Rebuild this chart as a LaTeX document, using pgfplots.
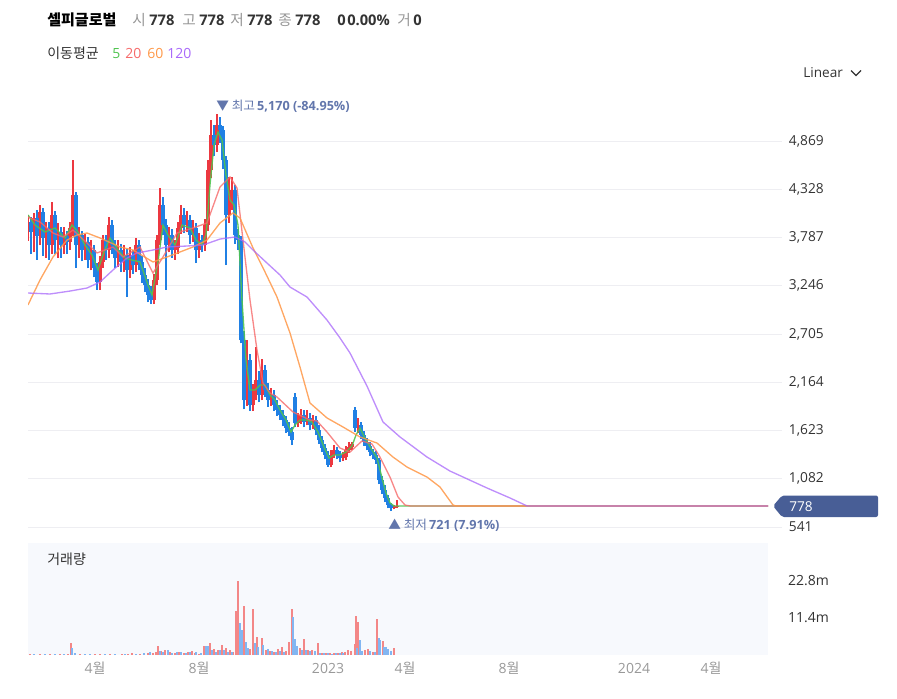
\documentclass[border=0pt]{standalone}
\usepackage{fontspec}
\setmainfont{Open Sans}
\newfontfamily\kr{Noto Sans CJK KR}
\usepackage{pgfplots}
\pgfplotsset{compat=1.18}
\usepackage{pgfplotstable}

\definecolor{cRed}{RGB}{236,56,64}
\definecolor{cBlue}{RGB}{32,128,228}
\definecolor{vRed}{RGB}{243,135,135}
\definecolor{vBlue}{RGB}{130,182,242}
\definecolor{maG}{RGB}{80,196,80}
\definecolor{maR}{RGB}{246,106,106}
\definecolor{maO}{RGB}{255,152,72}
\definecolor{maP}{RGB}{168,104,250}
\definecolor{gridc}{RGB}{238,238,242}
\definecolor{volbg}{RGB}{247,249,253}
\definecolor{tagc}{RGB}{72,94,150}
\definecolor{annc}{RGB}{98,118,172}
\definecolor{txt}{RGB}{51,51,51}
\definecolor{gry}{RGB}{150,150,150}
\definecolor{xgry}{RGB}{153,153,153}

% up (red) candles
\pgfplotstableread{
x o h l c
28 3850 4040 3750 3961
34 3849 4060 3620 4006
40 3804 4152 3700 4073
46 3782 3960 3560 3894
52 3703 4185 3600 4040
58 3759 3950 3560 3849
64 3703 3900 3600 3804
70 3737 3960 3650 3894
73 3894 4656 3800 4264
79 3703 3900 3560 3815
85 3647 3830 3540 3737
91 3535 3760 3420 3647
100 3288 3580 3200 3513
103 3513 3820 3450 3759
109 3647 4017 3560 3927
118 3557 3760 3460 3647
124 3513 3700 3400 3591
130 3423 3680 3330 3591
136 3479 3780 3400 3703
154 3087 3380 3040 3311
157 3311 3820 3250 3759
160 3759 4342 3700 4152
169 3703 3900 3620 3815
175 3647 3760 3540 3670
178 3670 3960 3600 3894
181 3894 4152 3830 4040
187 3927 4080 3850 3984
193 3815 3980 3740 3894
199 3647 3840 3560 3759
205 3703 3990 3640 3927
208 3927 4656 3860 4544
211 4544 5105 4450 4937
217 4824 5170 4750 5049
229 4040 4466 3950 4208
232 4208 4466 4100 4320
247 1965 2638 1900 2414
253 1909 2140 1840 2022
256 2022 2560 1960 2190
262 2022 2420 1960 2302
271 1965 2100 1900 2022
298 1708 1820 1660 1742
301 1742 1870 1700 1797
307 1719 1850 1680 1764
313 1686 1800 1640 1742
331 1237 1400 1210 1349
334 1349 1460 1310 1405
343 1316 1380 1280 1327
346 1327 1450 1290 1405
349 1405 1490 1370 1439
352 1439 1495 1400 1472
358 1652 1760 1600 1686
394 754 790 740 777
397 766 844 760 778
}\upcandles

% down (blue) candles
\pgfplotstableread{
x o h l c
31 3961 4020 3600 3849
37 4006 4100 3540 3804
43 4073 4120 3580 3782
49 3894 3960 3540 3703
55 4040 4080 3600 3759
61 3849 3900 3560 3703
67 3804 3860 3600 3737
76 4264 4300 3445 3703
82 3815 3860 3520 3647
88 3737 3790 3440 3535
94 3647 3700 3340 3445
97 3445 3500 3199 3288
106 3759 3820 3540 3647
112 3927 3980 3600 3703
115 3703 3760 3440 3557
121 3647 3720 3400 3513
127 3591 3660 3120 3423
133 3591 3650 3380 3479
139 3703 3760 3420 3513
142 3513 3580 3280 3367
145 3367 3440 3180 3255
148 3255 3320 3060 3143
151 3143 3240 3040 3087
163 4152 4240 3820 3927
166 3927 3990 3199 3703
172 3815 3880 3560 3647
184 4040 4120 3840 3927
190 3984 4040 3720 3815
196 3894 3950 3501 3647
202 3759 3820 3620 3703
214 4937 5050 4700 4824
220 5049 5140 4850 4993
223 4993 5040 4550 4656
226 4656 4700 3479 4040
235 4320 4380 3720 3815
238 3815 3880 3650 3759
241 3759 3800 2600 2638
244 2638 2740 1860 1965
250 2414 2480 1840 1909
259 2190 2290 1940 2022
265 2302 2360 2000 2077
268 2077 2160 1890 1965
274 2022 2080 1840 1909
277 1909 1970 1790 1853
280 1853 1910 1740 1797
283 1797 1850 1670 1742
286 1742 1790 1600 1652
289 1652 1720 1560 1607
292 1607 1660 1461 1517
295 2000 2044 1660 1708
304 1797 1850 1660 1719
310 1764 1820 1630 1686
316 1742 1790 1570 1630
319 1630 1680 1470 1517
322 1517 1560 1380 1428
325 1428 1470 1300 1349
328 1349 1390 1215 1237
337 1405 1440 1300 1349
340 1349 1390 1270 1316
355 1853 1887 1610 1652
361 1686 1720 1530 1574
364 1574 1620 1450 1495
367 1495 1540 1400 1450
370 1450 1500 1340 1383
373 1383 1420 1300 1349
376 1349 1390 1250 1293
379 1293 1320 1020 1068
382 1068 1110 910 956
385 956 1010 820 866
388 866 900 750 788
391 788 810 721 754
}\downcandles

% volume, millions
\pgfplotstableread{
x v
30 0.3
40 0.2
50 0.2
60 0.2
68 0.3
71 3.7
80 0.2
95 0.3
100 0.3
110 0.3
122 0.4
128 0.3
132 0.5
140 0.4
148 0.5
153 0.6
156 1.0
158 2.8
161 1.2
165 1.4
170 0.8
175 0.6
179 0.9
184 0.7
188 0.8
192 1.2
195 0.6
199 0.4
204 2.8
207 2.2
210 3.7
214 2.0
218 1.5
222 3.2
226 2.1
230 1.4
233 1.0
236 13.6
238 22.9
244 15.1
250 2.0
253 14.2
257 5.6
262 5.3
266 1.5
270 1.2
274 1.0
278 2.0
282 2.6
286 1.3
289 4.1
292 14.2
300 2.3
304 4.9
308 1.6
312 1.5
318 3.7
322 0.6
326 0.5
330 0.5
334 0.6
338 0.5
342 0.8
345 0.9
348 1.6
351 1.1
355 3.5
356 12.0
358 10.3
365 1.6
368 2.0
373 0.8
377 11.0
383 4.3
394 2.3
}\volred

\pgfplotstableread{
x v
34 0.2
45 0.3
55 0.2
64 0.2
72 2.2
75 0.5
85 0.3
90 0.2
105 0.2
115 0.2
125 0.3
136 0.4
144 0.6
150 0.8
160 1.2
163 0.8
168 1.5
172 0.7
177 0.8
181 0.9
186 0.7
190 1.0
196 0.8
201 0.5
206 2.9
208 2.8
212 1.5
216 1.0
220 1.4
224 1.5
228 0.9
232 0.8
240 10.0
242 7.7
246 4.1
248 2.2
255 3.7
258 2.5
263 3.0
268 1.8
272 1.2
276 1.0
280 1.2
284 1.0
293 11.6
295 4.9
297 2.8
302 1.6
306 1.4
310 1.3
315 1.2
320 0.6
324 0.5
328 0.6
332 0.4
336 0.5
340 0.6
343 0.5
357 2.2
360 4.5
362 1.1
370 1.1
375 1.0
379 5.3
380 4.6
384 2.6
386 2.6
388 1.9
391 1.1
}\volblue

\begin{document}
\begin{tikzpicture}[x=0.75pt,y=-0.75pt]
\path[use as bounding box] (0,0) rectangle (897,699);

% ---------- price panel ----------
\begin{axis}[
  at={(21pt,-401.25pt)}, anchor=south west,
  scale only axis, width=565.5pt, height=330pt,
  xmin=28, xmax=782, ymin=452, ymax=5385,
  axis line style={draw=none},
  major tick length=0pt,
  xtick=\empty,
  ytick={541,1082,1623,2164,2705,3246,3787,4328,4869},
  yticklabels={541,{1,082},{1,623},{2,164},{2,705},{3,246},{3,787},{4,328},{4,869}},
  yticklabel pos=right,
  yticklabel style={anchor=west, xshift=1.7pt, text=txt, font=\fontsize{10.3pt}{12pt}\selectfont},
  ymajorgrids, grid style={gridc, line width=0.6pt},
]
% wicks
\addplot[cRed, mark=none, forget plot,
  quiver={u=0, v=\thisrow{h}-\thisrow{l}, every arrow/.append style={line width=0.8pt, draw=cRed}}]
  table[x=x, y=l] {\upcandles};
\addplot[cBlue, mark=none, forget plot,
  quiver={u=0, v=\thisrow{h}-\thisrow{l}, every arrow/.append style={line width=0.8pt, draw=cBlue}}]
  table[x=x, y=l] {\downcandles};
% bodies
\addplot[cRed, mark=none, forget plot,
  quiver={u=0, v=\thisrow{c}-\thisrow{o}, every arrow/.append style={line width=2.5pt, draw=cRed}}]
  table[x=x, y=o] {\upcandles};
\addplot[cBlue, mark=none, forget plot,
  quiver={u=0, v=\thisrow{o}-\thisrow{c}, every arrow/.append style={line width=2.5pt, draw=cBlue}}]
  table[x=x, y=c] {\downcandles};

% MA5
\addplot[maG, line width=1pt, opacity=0.9] coordinates {
(28,4040)(35,3927)(45,3849)(55,3894)(65,3782)(72,3927)(78,3849)(85,3703)(92,3591)(98,3423)
(104,3625)(110,3782)(118,3647)(125,3557)(132,3535)(140,3513)(148,3255)(152,3143)(158,3513)
(163,3927)(168,3815)(175,3703)(182,3927)(190,3894)(196,3759)(202,3703)(206,3815)(210,4376)
(214,4824)(218,4970)(222,4880)(226,4488)(230,4208)(234,4152)(238,3927)(242,3087)(246,2414)
(250,2077)(255,2077)(260,2133)(265,2133)(270,2021)(275,1965)(280,1853)(286,1742)(291,1607)
(295,1685)(300,1742)(306,1742)(312,1719)(318,1607)(324,1438)(329,1315)(334,1349)(340,1349)
(346,1383)(352,1450)(356,1573)(360,1651)(366,1517)(372,1405)(377,1316)(382,1091)(386,923)
(390,811)(394,778)(768,778)};
% MA20
\addplot[maR, line width=1pt, opacity=0.8] coordinates {
(28,4017)(40,3961)(53,3838)(63,3793)(73,3871)(87,3726)(97,3614)(113,3681)(123,3569)(140,3681)
(153,3389)(163,3569)(177,3838)(193,3894)(207,3950)(220,4354)(230,4466)(237,4342)(243,3759)
(250,3087)(257,2526)(263,2156)(270,2044)(277,1999)(293,1831)(310,1741)(317,1730)(327,1607)
(340,1427)(350,1382)(362,1506)(372,1472)(380,1326)(390,1102)(398,878)(405,788)(410,778)(768,778)};
% MA60
\addplot[maO, line width=1pt, opacity=0.85] coordinates {
(28,3031)(40,3311)(53,3569)(67,3759)(77,3815)(87,3838)(100,3782)(120,3681)(133,3647)(153,3513)
(167,3569)(180,3625)(193,3681)(207,3759)(220,3950)(233,4062)(240,4006)(253,3670)(265,3401)
(277,3120)(290,2717)(300,2335)(310,1932)(327,1764)(343,1663)(360,1551)(377,1483)(393,1326)
(407,1214)(427,1102)(440,990)(453,788)(456,778)(768,778)};
% MA120
\addplot[maP, line width=1pt, opacity=0.75] coordinates {
(28,3165)(50,3154)(70,3187)(87,3221)(100,3288)(113,3423)(127,3557)(137,3614)(153,3647)(167,3681)
(187,3692)(203,3703)(220,3770)(235,3793)(245,3737)(253,3647)(267,3501)(280,3367)(290,3232)
(307,3120)(327,2862)(340,2661)(350,2492)(367,2122)(383,1719)(400,1551)(427,1326)(450,1169)
(487,979)(510,867)(527,778)(768,778)};
\end{axis}

% ---------- volume panel ----------
\begin{axis}[
  at={(21pt,-491.25pt)}, anchor=south west,
  scale only axis, width=555pt, height=84pt,
  xmin=28, xmax=768, ymin=0, ymax=34.5,
  axis line style={draw=none},
  major tick length=0pt,
  axis background/.style={fill=volbg},
  xtick={95,199,328,405,509,634,711},
  xticklabels={4{\kr 월},8{\kr 월},2023,4{\kr 월},8{\kr 월},2024,4{\kr 월}},
  xticklabel style={anchor=base, yshift=-13.5pt, text=xgry, font=\fontsize{10.5pt}{12pt}\selectfont},
  ytick={11.4,22.8}, yticklabels={11.4m,22.8m},
  yticklabel pos=right,
  yticklabel style={anchor=west, xshift=11.5pt, text=txt, font=\fontsize{10.5pt}{12pt}\selectfont},
]
\addplot[ycomb, draw=vRed, line width=1.1pt, mark=none] table[x=x, y=v] {\volred};
\addplot[ycomb, draw=vBlue, line width=1.1pt, mark=none] table[x=x, y=v] {\volblue};
\end{axis}

% ---------- header texts ----------
\begin{scope}[every node/.style={inner sep=0pt, anchor=base west}]
\node[text=black] at (47,26) {\fontsize{11.3pt}{13pt}\selectfont\kr\bfseries 셀피글로벌};
\node[text=gry] at (132,26) {\fontsize{11pt}{13pt}\selectfont\kr 시};
\node[text=txt] at (149,26) {\fontsize{11pt}{13pt}\selectfont\bfseries 778};
\node[text=gry] at (182,26) {\fontsize{11pt}{13pt}\selectfont\kr 고};
\node[text=txt] at (199,26) {\fontsize{11pt}{13pt}\selectfont\bfseries 778};
\node[text=gry] at (230,26) {\fontsize{11pt}{13pt}\selectfont\kr 저};
\node[text=txt] at (247,26) {\fontsize{11pt}{13pt}\selectfont\bfseries 778};
\node[text=gry] at (278,26) {\fontsize{11pt}{13pt}\selectfont\kr 종};
\node[text=txt] at (295,26) {\fontsize{11pt}{13pt}\selectfont\bfseries 778};
\node[text=txt] at (337,26) {\fontsize{11pt}{13pt}\selectfont\bfseries 0};
\node[text=txt] at (347,26) {\fontsize{11pt}{13pt}\selectfont\bfseries 0.00\%};
\node[text=gry] at (397,26) {\fontsize{11pt}{13pt}\selectfont\kr 거};
\node[text=txt] at (413,26) {\fontsize{11pt}{13pt}\selectfont\bfseries 0};

\node[text=txt] at (47,59) {\fontsize{10.5pt}{12pt}\selectfont\kr 이동평균};
\node[text=maG] at (112,59) {\fontsize{10.5pt}{12pt}\selectfont 5};
\node[text=maR] at (125,59) {\fontsize{10.5pt}{12pt}\selectfont 20};
\node[text=maO] at (147,59) {\fontsize{10.5pt}{12pt}\selectfont 60};
\node[text=maP] at (167,59) {\fontsize{10.5pt}{12pt}\selectfont 120};

\node[text=txt] at (803,78) {\fontsize{10.2pt}{12pt}\selectfont Linear};

\node[text=txt] at (47,564) {\fontsize{10.5pt}{12pt}\selectfont\kr 거래량};

\node[text=annc] at (216,111) {\fontsize{9.5pt}{11pt}\selectfont{\kr ▼ 최고}\,\bfseries 5,170 (-84.95\%)};
\node[text=annc] at (388,529.5) {\fontsize{9.5pt}{11pt}\selectfont{\kr ▲ 최저}\,\bfseries 721 (7.91\%)};
\end{scope}
\draw[txt, line width=0.9pt] (851,70.5) -- (856,75.5) -- (861,70.5);

% price tag
\fill[tagc, rounded corners=1.5pt] (773,506) -- (782,495.5) -- (878,495.5) -- (878,517) -- (782,517) -- cycle;
\node[inner sep=0pt, anchor=base west, text=white] at (789,511) {\fontsize{10.2pt}{12pt}\selectfont 778};
\end{tikzpicture}
\end{document}
